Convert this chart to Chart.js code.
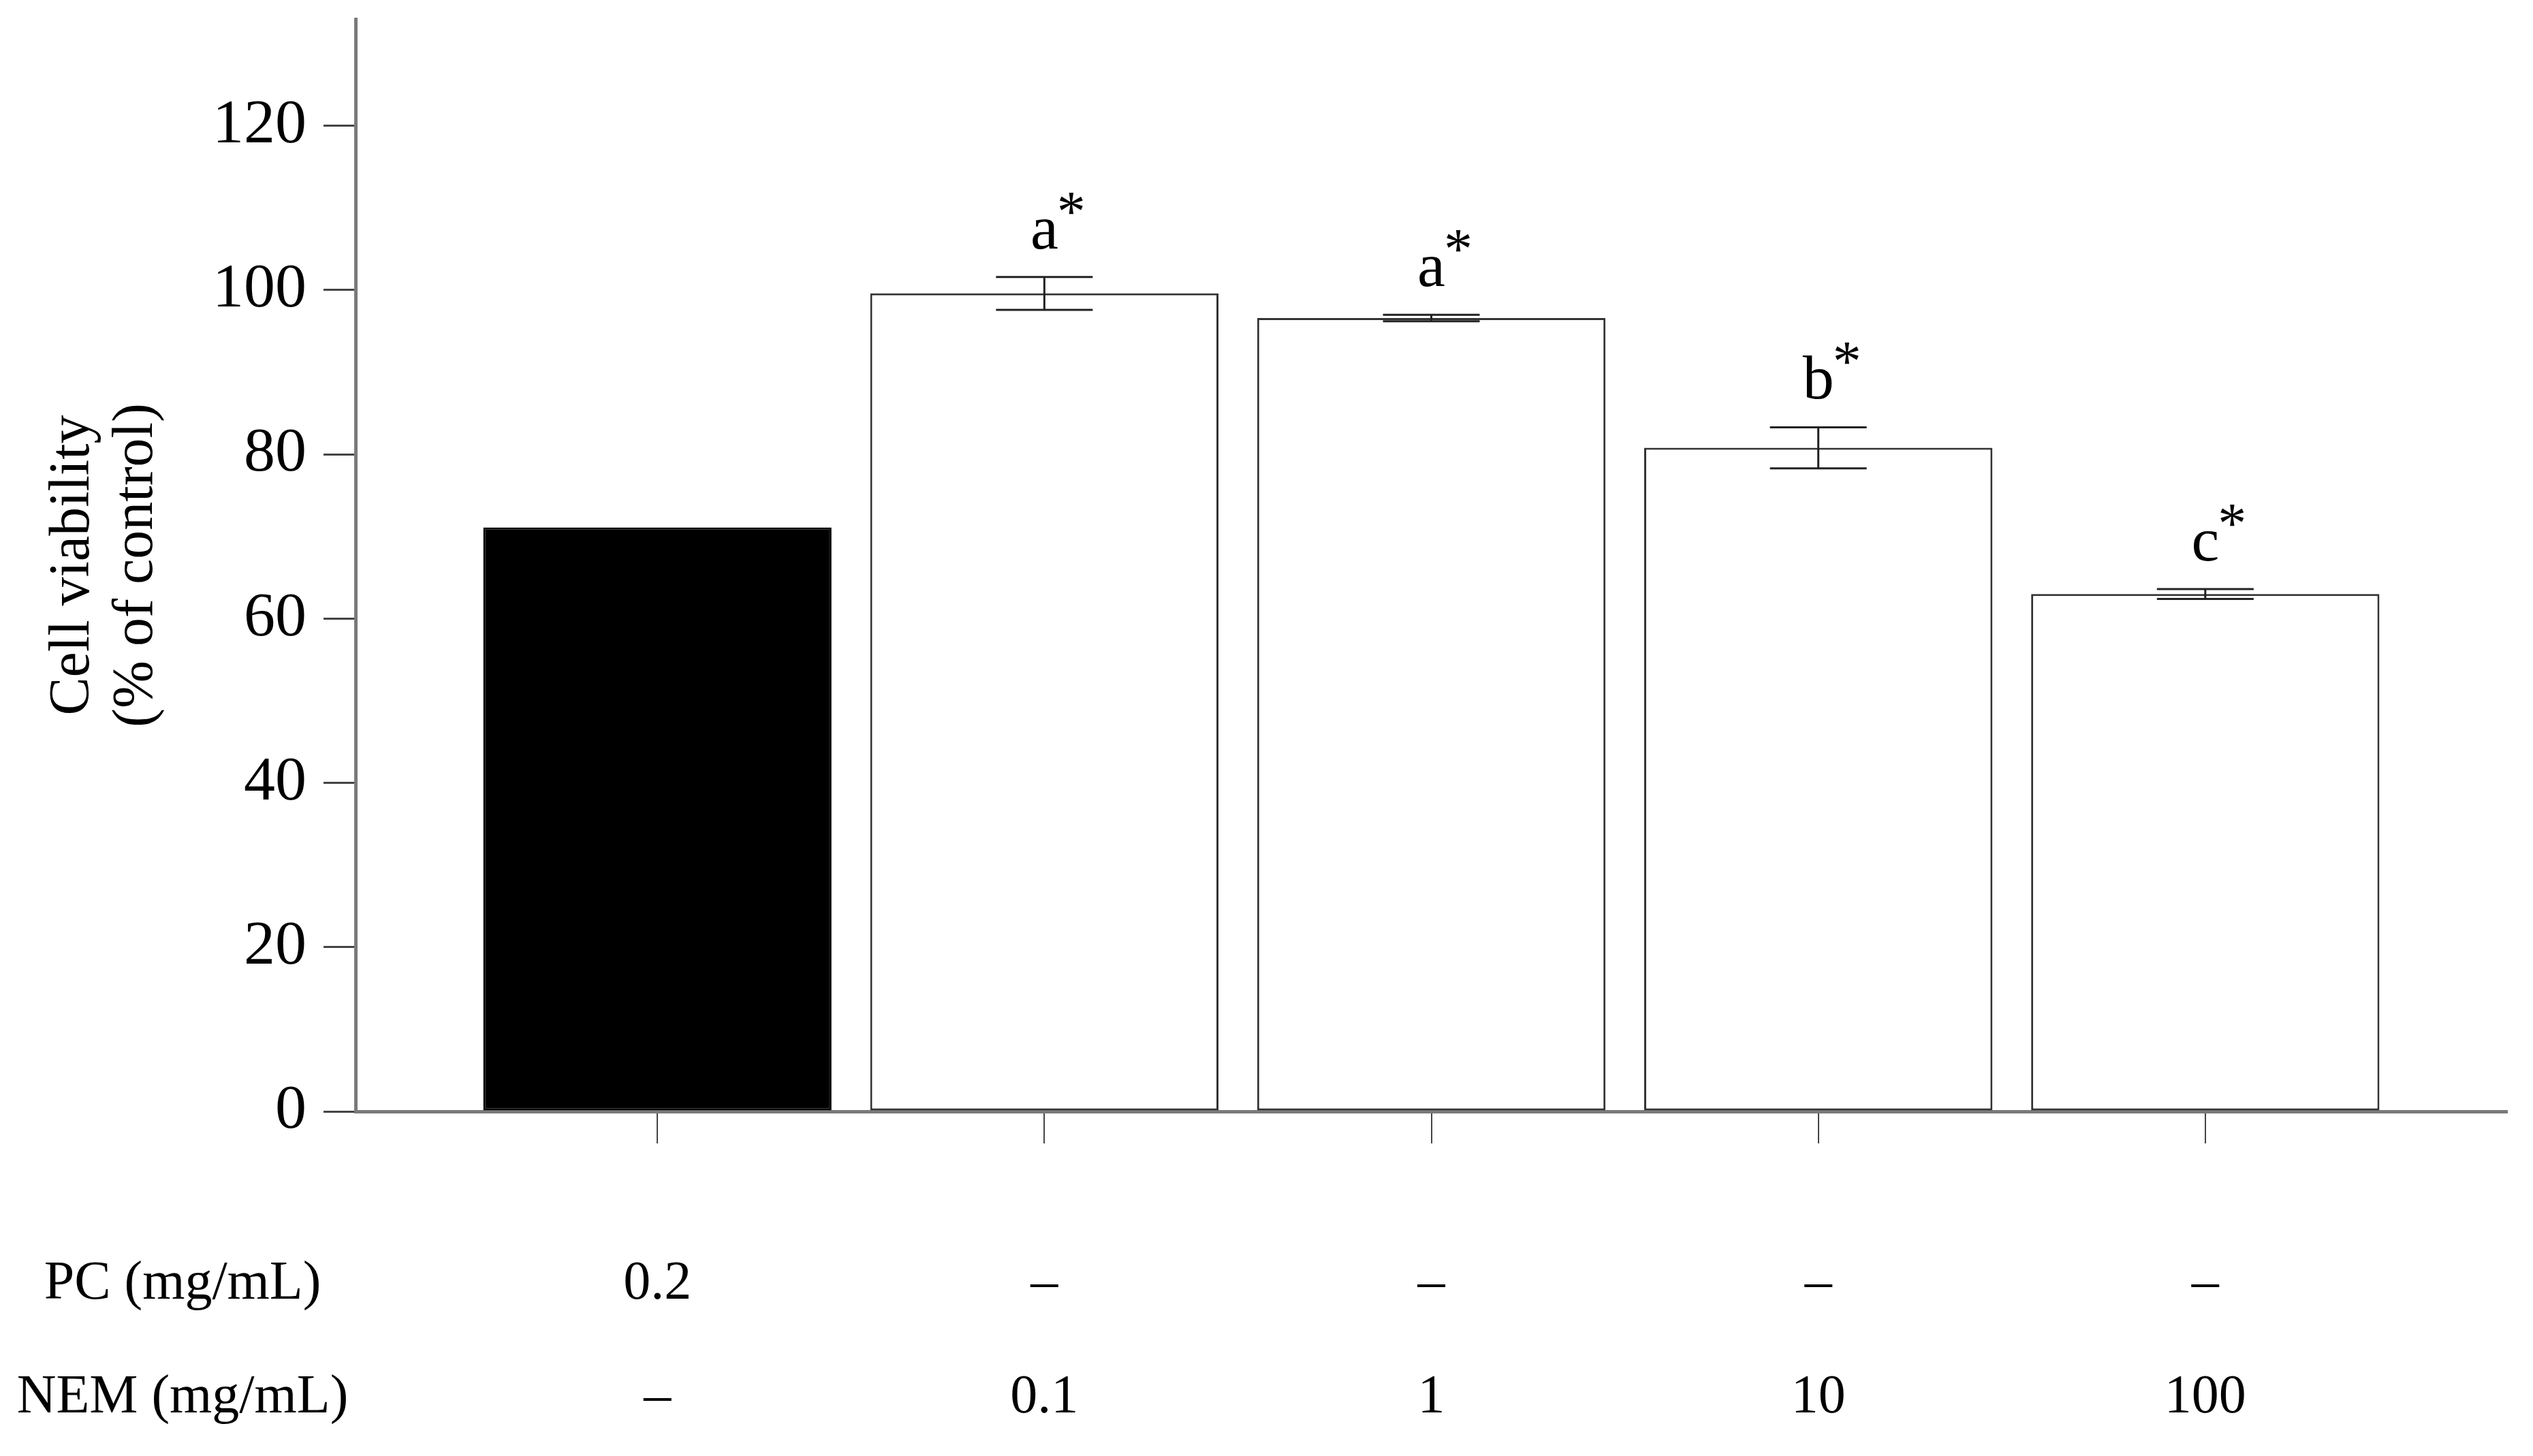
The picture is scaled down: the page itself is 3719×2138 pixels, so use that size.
<!DOCTYPE html>
<html>
<head>
<meta charset="utf-8">
<script src="https://cdn.jsdelivr.net/npm/chart.js@4.4.0/dist/chart.umd.min.js"></script>
<style>
  body { margin: 0; background: #ffffff; }
</style>
</head>
<body>
<canvas id="graficaCanvas" width="3719" height="2138"></canvas>
<script>
// datos
var posiciones = [0, 1, 2, 3, 4];
var viabilidad = [71.1, 99.6, 96.6, 80.8, 63.0];
var errores = [0, 2.0, 0.4, 2.5, 0.6];
var letras = ['', 'a', 'a', 'b', 'c'];
var etiquetasPC = ['0.2', '\u2013', '\u2013', '\u2013', '\u2013'];
var etiquetasNEM = ['\u2013', '0.1', '1', '10', '100'];
var filas = ['PC (mg/mL)', 'NEM (mg/mL)'];
var ticksY = [0, 20, 40, 60, 80, 100, 120];
var tituloY = ['Cell viability', '(% of control)'];

var fuente = '"Liberation Serif", "Times New Roman", serif';
var largoTick = 47;
var rellenoX = 123;
var altoLinea = 167;

var puntos = posiciones.map(function (p, i) {
    return { x: p, y: viabilidad[i] };
});

// barras de error, letras y nombres de las filas
var pluginExtras = {
    id: 'extras',
    afterDatasetsDraw: function (chart) {
        var ctx = chart.ctx;
        var ejeX = chart.scales.x;
        var ejeY = chart.scales.y;
        ctx.save();
        for (var i = 0; i < posiciones.length; i++) {
            var px = ejeX.getPixelForValue(posiciones[i]);
            var arriba = ejeY.getPixelForValue(viabilidad[i] + errores[i]);
            var abajo = ejeY.getPixelForValue(viabilidad[i] - errores[i]);
            if (errores[i] > 0) {
                ctx.strokeStyle = '#222222';
                ctx.lineWidth = 3;
                ctx.beginPath();
                ctx.moveTo(px, arriba);
                ctx.lineTo(px, abajo);
                ctx.moveTo(px - 71, arriba);
                ctx.lineTo(px + 71, arriba);
                ctx.moveTo(px - 71, abajo);
                ctx.lineTo(px + 71, abajo);
                ctx.stroke();
            }
            if (letras[i]) {
                var base = arriba - 42;
                ctx.fillStyle = '#000000';
                ctx.font = '92px ' + fuente;
                ctx.textAlign = 'center';
                ctx.textBaseline = 'alphabetic';
                ctx.fillText(letras[i], px, base);
                var ancho = ctx.measureText(letras[i]).width;
                ctx.font = '84px ' + fuente;
                ctx.textAlign = 'left';
                ctx.fillText('*', px + ancho / 2 - 2, base - 26);
            }
        }
        ctx.fillStyle = '#000000';
        ctx.font = '80px ' + fuente;
        ctx.textAlign = 'center';
        ctx.textBaseline = 'middle';
        var y0 = ejeX.top + largoTick + rellenoX + altoLinea / 2;
        ctx.fillText(filas[0], 268, y0);
        ctx.fillText(filas[1], 268, y0 + altoLinea);
        ctx.restore();
    }
};

var ctx = document.getElementById('graficaCanvas').getContext('2d');
var grafica = new Chart(ctx, {
    type: 'bar',
    data: {
        datasets: [{
            data: puntos,
            backgroundColor: ['#000000', '#ffffff', '#ffffff', '#ffffff', '#ffffff'],
            borderColor: ['#000000', '#333333', '#333333', '#333333', '#333333'],
            borderWidth: 3,
            borderSkipped: false,
            categoryPercentage: 1,
            barPercentage: 0.9
        }]
    },
    options: {
        responsive: false,
        animation: false,
        devicePixelRatio: 1,
        layout: { padding: { top: 28, right: 38 } },
        plugins: {
            legend: { display: false },
            tooltip: { enabled: false }
        },
        scales: {
            x: {
                type: 'linear',
                min: -0.78,
                max: 4.78,
                offset: false,
                afterBuildTicks: function (eje) {
                    eje.ticks = posiciones.map(function (p) { return { value: p }; });
                },
                afterFit: function (eje) {
                    eje.height = 506;
                    eje.paddingLeft = 0;
                    eje.paddingRight = 0;
                },
                border: { display: true, color: '#7a7a7a', width: 5 },
                grid: {
                    display: true,
                    offset: false,
                    drawOnChartArea: false,
                    drawTicks: true,
                    tickLength: largoTick,
                    color: '#444444',
                    lineWidth: 2
                },
                ticks: {
                    autoSkip: false,
                    maxRotation: 0,
                    padding: rellenoX,
                    color: '#000000',
                    font: { family: fuente, size: 80, lineHeight: altoLinea / 80 },
                    callback: function (valor, indice) {
                        return [etiquetasPC[indice], etiquetasNEM[indice]];
                    }
                }
            },
            y: {
                min: 0,
                max: 133,
                afterBuildTicks: function (eje) {
                    eje.ticks = ticksY.map(function (v) { return { value: v }; });
                },
                afterFit: function (eje) {
                    eje.width = 522;
                    eje.paddingTop = 0;
                    eje.paddingBottom = 0;
                },
                border: { display: true, color: '#7a7a7a', width: 5 },
                grid: {
                    display: true,
                    drawOnChartArea: false,
                    drawTicks: true,
                    tickLength: largoTick,
                    color: '#444444',
                    lineWidth: 3
                },
                ticks: {
                    padding: 25,
                    color: '#000000',
                    font: { family: fuente, size: 92 }
                },
                title: {
                    display: true,
                    text: tituloY,
                    color: '#000000',
                    font: { family: fuente, size: 84, lineHeight: 93 / 84 },
                    padding: { top: 61, bottom: 0 }
                }
            }
        }
    },
    plugins: [pluginExtras]
});
</script>
</body>
</html>
